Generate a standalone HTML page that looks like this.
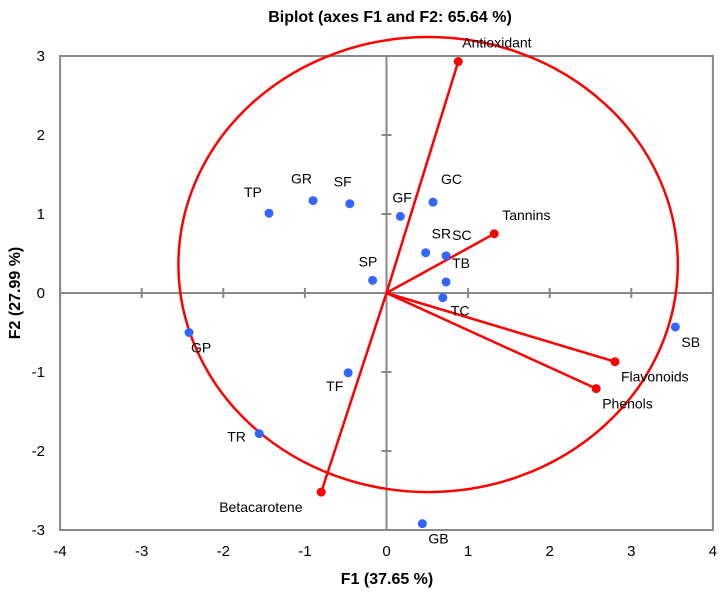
<!DOCTYPE html>
<html><head><meta charset="utf-8"><style>
body{margin:0;background:#fff;}
svg text{font-family:"Liberation Sans",sans-serif;}
</style></head><body>
<svg id="c" width="721" height="594" xmlns="http://www.w3.org/2000/svg">
<text x="390" y="22" text-anchor="middle" font-size="16" font-weight="bold">Biplot (axes F1 and F2: 65.64 %)</text>
<text x="387" y="584" text-anchor="middle" font-size="16" font-weight="bold">F1 (37.65 %)</text>
<text transform="translate(20,293) rotate(-90)" text-anchor="middle" font-size="16" font-weight="bold">F2 (27.99 %)</text>
<g id="g"></g>
</svg>
<script>
const xTicks=[-4,-3,-2,-1,0,1,2,3,4];
const yTicks=[-3,-2,-1,0,1,2,3];
const obsNames=["TP","GR","SF","GF","GC","SR","SC","TB","TC","SP","GP","TF","TR","GB","SB"];
const obsX=[-1.44,-0.9,-0.45,0.17,0.57,0.48,0.73,0.73,0.69,-0.17,-2.42,-0.47,-1.56,0.44,3.54];
const obsY=[1.01,1.17,1.13,0.97,1.15,0.51,0.47,0.14,-0.06,0.16,-0.5,-1.01,-1.78,-2.92,-0.43];
const varNames=["Antioxidant","Tannins","Flavonoids","Phenols","Betacarotene"];
const varX=[0.88,1.32,2.8,2.57,-0.8];
const varY=[2.93,0.75,-0.87,-1.21,-2.52];
const X=v=>386.5+v*81.6, Y=v=>293-v*79;
const g=document.getElementById('g'),NS='http://www.w3.org/2000/svg';
function mk(t,a){const e=document.createElementNS(NS,t);for(const k in a)e.setAttribute(k,a[k]);g.appendChild(e);return e;}
let e=mk('rect',{x:X(-4),y:Y(3),width:X(4)-X(-4),height:Y(-3)-Y(3),fill:'none',stroke:'#888','stroke-width':2});


e=mk('line',{x1:X(-4),x2:X(4),y1:Y(0),y2:Y(0),stroke:'#888','stroke-width':2});


e=mk('line',{x1:X(0),x2:X(0),y1:Y(3),y2:Y(-3),stroke:'#888','stroke-width':2});


xTicks.forEach(v=>{
 e=mk('line',{x1:X(v),x2:X(v),y1:Y(0)-5,y2:Y(0)+5,stroke:'#888','stroke-width':2});
 
 
 e=mk('text',{x:X(v),y:556,'text-anchor':'middle','font-size':15});e.textContent=v;
 
 
});
yTicks.forEach(v=>{
 e=mk('line',{x1:X(0)-5,x2:X(0)+5,y1:Y(v),y2:Y(v),stroke:'#888','stroke-width':2});
 
 
 e=mk('text',{x:45,y:Y(v)+5,'text-anchor':'end','font-size':15});e.textContent=v;
 
 
});
e=mk('ellipse',{cx:X(0.51),cy:Y(0.36),rx:3.06*81.6,ry:2.88*79,fill:'none',stroke:'#f00','stroke-width':2.5});


const varOff=[[4,-14],[8,-14],[6,20],[6,20],[-102,20]];
varNames.forEach((n,i)=>{
 e=mk('line',{x1:X(0),y1:Y(0),x2:X(varX[i]),y2:Y(varY[i]),stroke:'#f00','stroke-width':2.5});
 
 
 e=mk('circle',{cx:X(varX[i]),cy:Y(varY[i]),r:4.5,fill:'#f00'});
 
 
 e=mk('text',{x:X(varX[i])+varOff[i][0],y:Y(varY[i])+varOff[i][1],'font-size':14});e.textContent=n;
 
 
});
const obsOff=[[-25,-16],[-22,-17],[-16,-17],[-8,-14],[8,-18],[6,-14],[6,-16],[6,-14],[8,18],[-14,-14],[2,20],[-22,18],[-32,8],[6,20],[6,20]];
obsNames.forEach((n,i)=>{
 e=mk('circle',{cx:X(obsX[i]),cy:Y(obsY[i]),r:4.5,fill:'#3366ff'});
 
 
 e=mk('text',{x:X(obsX[i])+obsOff[i][0],y:Y(obsY[i])+obsOff[i][1],'font-size':14});e.textContent=n;
 
 
});
</script>
</body></html>
